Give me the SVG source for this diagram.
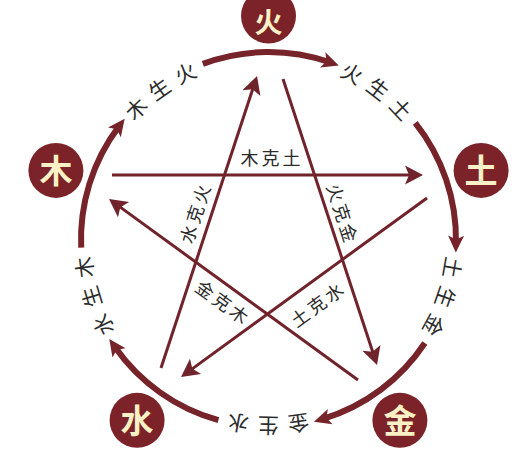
<svg xmlns="http://www.w3.org/2000/svg" xmlns:xlink="http://www.w3.org/1999/xlink" width="523" height="459" viewBox="0 0 523 459">
<style>
.node{fill:#7b2328}
.ntxt{font-family:"Noto Sans CJK SC","Noto Sans",sans-serif;font-size:33px;font-weight:bold;fill:#fcf1c6;text-anchor:middle}
.arc{fill:none;stroke:#76232a;stroke-width:6;marker-end:url(#ah)}
.ln{fill:none;stroke:#70232a;stroke-width:3;marker-end:url(#lh)}
.lbl{font-family:"Noto Sans CJK SC","Noto Sans",sans-serif;font-size:18px;fill:#2b2b2b;text-anchor:middle;letter-spacing:3px}
.clbl{font-family:"Noto Sans CJK SC","Noto Sans",sans-serif;font-size:21px;fill:#2b2b2b;text-anchor:middle;letter-spacing:8px}
</style>
<defs>
<marker id="ah" markerUnits="userSpaceOnUse" viewBox="0 -10 20 20" markerWidth="20" markerHeight="20" refX="7.2" refY="0" orient="auto" overflow="visible">
<path d="M0,-8 L17,0 L0,8 L4,0 Z" fill="#76232a"/>
</marker>
<marker id="lh" markerUnits="userSpaceOnUse" viewBox="0 -10 20 20" markerWidth="20" markerHeight="20" refX="8" refY="0" orient="auto" overflow="visible">
<path d="M0,-9.5 L18,0 L0,9.5 L4,0 Z" fill="#70232a"/>
</marker>
<path id="p1" d="M107.57,163.43 A178 178 0 0 1 253.91,62.10"/>
<path id="p2" d="M291.12,62.94 A178 178 0 0 1 432.71,170.81"/>
<path id="p3" d="M443.40,206.45 A178 178 0 0 1 384.57,374.45"/>
<path id="p4" d="M353.98,395.63 A178 178 0 0 1 176.03,391.59"/>
<path id="p5" d="M146.42,369.04 A178 178 0 0 1 95.28,198.55"/>
</defs>
<rect width="523" height="459" fill="#ffffff"/>
<g id="connectors">
<path class="arc" d="M81.18,247.68 A187.5 187.5 0 0 1 118.76,126.66"/>
<path class="arc" d="M202.84,63.87 A187.5 187.5 0 0 1 329.54,62.21"/>
<path class="arc" d="M415.24,122.78 A187.5 187.5 0 0 1 455.97,242.77"/>
<path class="arc" d="M424.85,342.99 A187.5 187.5 0 0 1 323.32,418.81"/>
<path class="arc" d="M218.39,420.18 A187.5 187.5 0 0 1 114.91,347.05"/>
<path class="ln" d="M112,175 L413,175"/>
<path class="ln" d="M283,79 L373.9,355.5"/>
<path class="ln" d="M358,380 L117.1,204.9"/>
<path class="ln" d="M161,368 L253.9,85.5"/>
<path class="ln" d="M427,198 L189.1,371.1"/>
</g>
<g id="labels">
<text class="clbl"><textPath xlink:href="#p1" href="#p1" startOffset="50%">木生火</textPath></text>
<text class="clbl"><textPath xlink:href="#p2" href="#p2" startOffset="50%">火生土</textPath></text>
<text class="clbl"><textPath xlink:href="#p3" href="#p3" startOffset="50%">土生金</textPath></text>
<text class="clbl"><textPath xlink:href="#p4" href="#p4" startOffset="50%">金生水</textPath></text>
<text class="clbl"><textPath xlink:href="#p5" href="#p5" startOffset="50%">水生木</textPath></text>
<text class="lbl" x="272" y="164.8">木克土</text>
<text class="lbl" transform="translate(195,214) rotate(-72)" x="1.5" y="6.8">水克火</text>
<text class="lbl" transform="translate(342,213) rotate(72)" x="1.5" y="6.8">火克金</text>
<text class="lbl" transform="translate(222,302) rotate(36)" x="1.5" y="6.8">金克木</text>
<text class="lbl" transform="translate(317,305) rotate(-36)" x="1.5" y="6.8">土克水</text>
</g>
<g id="node-huo"><circle class="node" cx="268.5" cy="16" r="27.5"/><text class="ntxt" x="268.5" y="32.5" style="font-size:28px">火</text></g>
<g id="node-tu"><circle class="node" cx="481.1" cy="170.4" r="27.5"/><text class="ntxt" x="481.1" y="182.9">土</text></g>
<g id="node-jin"><circle class="node" cx="399.9" cy="420.3" r="27.5"/><text class="ntxt" x="399.9" y="432.8">金</text></g>
<g id="node-shui"><circle class="node" cx="137.1" cy="420.3" r="27.5"/><text class="ntxt" x="137.1" y="432.8">水</text></g>
<g id="node-mu"><circle class="node" cx="55.9" cy="170.4" r="27.5"/><text class="ntxt" x="55.9" y="182.9">木</text></g>
</svg>
